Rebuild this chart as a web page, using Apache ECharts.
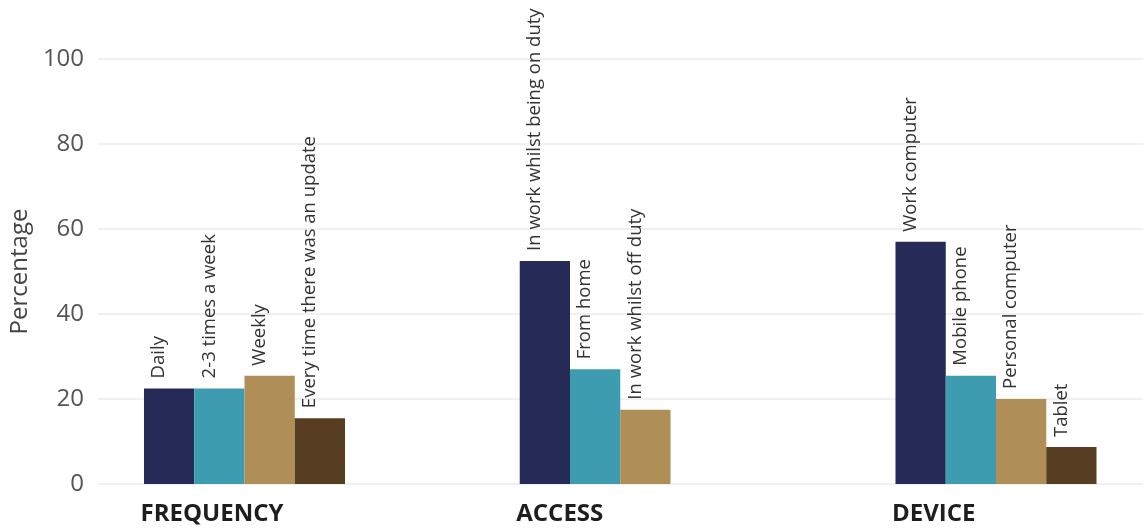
<!DOCTYPE html>
<html>
<head>
<meta charset="utf-8">
<script src="https://cdn.jsdelivr.net/npm/echarts@6/dist/echarts.min.js"></script>
<style>
  html, body { margin: 0; padding: 0; background: #ffffff; }
  #chart { width: 1143px; height: 529px; }
</style>
</head>
<body>
<div id="chart"></div>
<script>
// Survey groups along the x axis
const groups = ['FREQUENCY', 'ACCESS', 'DEVICE'];

// Answers within each group (left to right)
const frequencyLabels = ['Daily', '2-3 times a week', 'Weekly', 'Every time there was an update'];
const frequencyValues = [22.5, 22.5, 25.5, 15.5];

const accessLabels = ['In work whilst being on duty', 'From home', 'In work whilst off duty'];
const accessValues = [52.5, 27, 17.5];

const deviceLabels = ['Work computer', 'Mobile phone', 'Personal computer', 'Tablet'];
const deviceValues = [57, 25.5, 20, 8.7];

// Y axis ticks
const yTicks = [0, 20, 40, 60, 80, 100];

// One colour per position inside a group
const positionColors = ['#252a56', '#3e9cb1', '#b08e57', '#573d21'];

const groupLabels = [frequencyLabels, accessLabels, deviceLabels];
const groupValues = [frequencyValues, accessValues, deviceValues];

const FONT = '"Open Sans", "Noto Sans", sans-serif';

// Build one bar series per position; each data item carries its own answer text
const series = positionColors.map(function (color, pos) {
  return {
    type: 'bar',
    xAxisIndex: 1,
    yAxisIndex: 1,
    clip: false,
    barGap: 0,
    barCategoryGap: '46.5%',
    itemStyle: { color: color },
    label: {
      show: true,
      position: 'top',
      rotate: 90,
      align: 'left',
      verticalAlign: 'middle',
      distance: 10,
      offset: [0, -10],
      fontFamily: FONT,
      fontSize: 18.5,
      color: '#333333',
      formatter: function (p) { return groupLabels[p.dataIndex][pos] || ''; }
    },
    data: groupValues.map(function (vals) {
      return vals[pos] === undefined ? null : vals[pos];
    })
  };
});

const chart = echarts.init(document.getElementById('chart'), null, { renderer: 'canvas' });

chart.setOption({
  animation: false,
  backgroundColor: '#ffffff',
  grid: [
    // plot area holding the value axis and its gridlines
    { left: 97, right: 0, top: 59, height: 425 },
    // bar area: group centres sit on the category points
    { left: 244.5, width: 751.5, top: 59, height: 425 }
  ],
  xAxis: [
    { type: 'category', gridIndex: 0, data: [''], show: false },
    {
      type: 'category',
      gridIndex: 1,
      data: groups,
      boundaryGap: false,
      axisLine: { show: false },
      axisTick: { show: false },
      splitLine: { show: false },
      axisLabel: {
        margin: 18,
        align: 'left',
        padding: [0, 0, 0, -104],
        fontFamily: FONT,
        fontWeight: 'bold',
        fontSize: 24,
        color: '#1e1e1e'
      }
    }
  ],
  yAxis: [
    {
      type: 'value',
      gridIndex: 0,
      min: yTicks[0],
      max: yTicks[yTicks.length - 1],
      interval: yTicks[1] - yTicks[0],
      name: 'Percentage',
      nameLocation: 'middle',
      nameGap: 58,
      nameTextStyle: { fontFamily: FONT, fontSize: 24, color: '#444444' },
      axisLine: { show: false },
      axisTick: { show: false },
      axisLabel: { margin: 14, fontFamily: FONT, fontSize: 24, color: '#555555' },
      splitLine: { lineStyle: { color: '#ebebeb', width: 1.5 } }
    },
    {
      type: 'value',
      gridIndex: 1,
      min: yTicks[0],
      max: yTicks[yTicks.length - 1],
      show: false
    }
  ],
  series: series
});
</script>
</body>
</html>
